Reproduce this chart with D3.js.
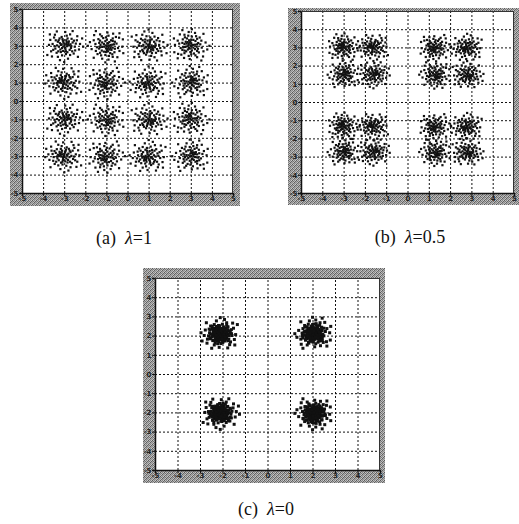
<!DOCTYPE html>
<html><head><meta charset="utf-8">
<script src="https://cdn.jsdelivr.net/npm/d3@7/dist/d3.min.js"></script>
<style>body{margin:0;background:#fff}svg{display:block}</style>
</head><body>
<svg id="c" width="519" height="524"></svg>
<script>
// ---- data ----
const tickValues = [-5,-4,-3,-2,-1,0,1,2,3,4,5];
const tickLabels = ["-5","-4","-3","-2","-1","0","1","2","3","4","5"];
const captions = ["(a)", "(b)", "(c)"];
const lambdas = ["1", "0.5", "0"];
const xLevelsA = [-3,-1,1,3];
const yLevelsA = [3,1,-1,-3];
const xLevelsB = [-3,-1.6,1.3,2.8];
const yLevelsB = [3,1.5,-1.35,-2.75];
const xLevelsC = [-2.1,2.05];
const yLevelsC = [2.1,-2.05];
// received-symbol offsets around each constellation point (read as a typical cluster)
const noise = [
[0.05,-0.10],[-0.12,0.08],[0.20,0.15],[-0.25,-0.05],[0.10,0.30],[-0.05,-0.28],[0.32,-0.12],[-0.30,0.22],[0.15,-0.35],[-0.18,-0.20],
[0.00,0.12],[0.24,0.02],[-0.08,0.36],[0.40,0.18],[-0.42,-0.15],[0.08,-0.45],[-0.22,0.40],[0.35,0.38],[-0.36,-0.38],[0.50,-0.05],
[-0.55,0.10],[0.12,0.55],[-0.10,-0.52],[0.60,0.30],[-0.48,0.45],[0.45,-0.42],[-0.62,-0.30],[0.28,0.62],[-0.30,-0.60],[0.70,-0.20],
[-0.72,0.05],[0.05,0.75],[0.18,-0.70],[-0.15,0.05],[0.02,0.02],[0.14,-0.02],[-0.04,0.20],[0.26,-0.22],[-0.20,0.14],[0.10,0.10],
[-0.10,-0.12],[0.30,0.08],[-0.28,-0.30],[0.06,-0.20],[-0.06,0.28],[0.22,0.24],[-0.34,0.02],[0.38,-0.30],[0.16,0.40],[-0.40,0.30],
[0.55,0.12],[-0.52,-0.22],[0.85,0.40],[-0.80,-0.50],[0.40,0.80],[-0.35,0.78],[0.65,-0.60],[-0.68,0.62],[0.90,-0.05],[0.00,-0.88],
[0.12,0.20],[-0.16,-0.34],[0.34,-0.02],[-0.02,-0.04],[0.18,0.06],[-0.26,0.30],[0.08,-0.30],[-0.12,0.48],[0.46,0.28],[-0.46,-0.02],
[0.62,0.52],[-0.58,-0.58],[0.75,0.10],[-0.20,-0.78],[0.28,-0.50],[-0.44,0.60],[0.52,-0.25],[-0.66,0.32]
];

// ---- layout ----
const panels = [
  {outer:[10,3,230,203], inner:[22,9,211,184], xs:xLevelsA, ys:yLevelsA, spread:1.0, copies:1, dot:2.2, cap:[124,244]},
  {outer:[288,8,231,197], inner:[301,11,213,182], xs:xLevelsB, ys:yLevelsB, spread:0.85, copies:1, dot:2.2, cap:[410,243]},
  {outer:[143,268,242,215], inner:[155,278,225,192], xs:xLevelsC, ys:yLevelsC, spread:0.95, copies:3, dot:3, cap:[266,515]}
];

const svg = d3.select("#c");
const defs = svg.append("defs");
const dith = [["#5a5a5a","#c0c0c0","#848484","#c8c8c8"],
              ["#a8a8a8","#747474","#bcbcbc","#646464"],
              ["#888888","#c8c8c8","#5e5e5e","#acacac"],
              ["#bcbcbc","#6c6c6c","#a4a4a4","#909090"]];
const pat = defs.append("pattern").attr("id","dither").attr("patternUnits","userSpaceOnUse")
  .attr("width",4).attr("height",4);
dith.forEach((row,r)=>row.forEach((c,q)=>pat.append("rect").attr("x",q).attr("y",r).attr("width",1).attr("height",1).attr("fill",c)));

// symmetric variants so that clusters don't look identical
const variants = [
  d=>[d[0],d[1]], d=>[-d[1],d[0]], d=>[-d[0],-d[1]], d=>[d[1],-d[0]],
  d=>[-d[0],d[1]], d=>[d[1],d[0]], d=>[d[0],-d[1]], d=>[-d[1],-d[0]]
];

panels.forEach((P,pi)=>{
  const g = svg.append("g");
  const [ox,oy,ow,oh] = P.outer, [ix,iy,iw,ih] = P.inner;
  g.append("rect").attr("x",ox).attr("y",oy).attr("width",ow).attr("height",oh).attr("fill","url(#dither)");
  g.append("rect").attr("x",ix).attr("y",iy).attr("width",iw).attr("height",ih).attr("fill","#fff");
  const x = d3.scaleLinear().domain([-5,5]).range([ix, ix+iw]);
  const y = d3.scaleLinear().domain([-5,5]).range([iy+ih, iy]);
  // grid
  const gx = g.append("g").attr("transform",`translate(0,${iy+ih})`)
    .call(d3.axisBottom(x).tickValues(tickValues.slice(1,-1)).tickSize(-ih).tickFormat(""));
  gx.select(".domain").remove();
  gx.selectAll("line").attr("stroke","#111").attr("stroke-width",1).attr("stroke-dasharray","2,2");
  const gy = g.append("g").attr("transform",`translate(${ix},0)`)
    .call(d3.axisLeft(y).tickValues(tickValues.slice(1,-1)).tickSize(-iw).tickFormat(""));
  gy.select(".domain").remove();
  gy.selectAll("line").attr("stroke","#111").attr("stroke-width",1).attr("stroke-dasharray","2,2");
  // tick labels on frame
  const ax = g.append("g").attr("transform",`translate(0,${iy+ih})`)
    .call(d3.axisBottom(x).tickValues(tickValues).tickSize(3).tickFormat((d,i)=>tickLabels[i]));
  ax.select(".domain").attr("stroke","#111").attr("stroke-width",1.5);
  ax.selectAll("line").attr("stroke","#111");
  ax.selectAll("text").attr("font-family","DejaVu Sans").attr("font-size",7).attr("font-weight","bold").attr("fill","#222").attr("dy","0.3em");
  const ay = g.append("g").attr("transform",`translate(${ix},0)`)
    .call(d3.axisLeft(y).tickValues(tickValues).tickSize(3).tickFormat((d,i)=>tickLabels[i]));
  ay.select(".domain").attr("stroke","#111").attr("stroke-width",1.5);
  ay.selectAll("line").attr("stroke","#111");
  ay.selectAll("text").attr("font-family","DejaVu Sans").attr("font-size",7).attr("font-weight","bold").attr("fill","#222").attr("dx","0.35em");
  g.append("line").attr("x1",ix).attr("x2",ix+iw).attr("y1",iy+0.5).attr("y2",iy+0.5).attr("stroke","#333");
  g.append("line").attr("x1",ix+iw-0.5).attr("x2",ix+iw-0.5).attr("y1",iy).attr("y2",iy+ih).attr("stroke","#333");
  // points
  const pts = [];
  let k = 0;
  P.ys.forEach(cy=>P.xs.forEach(cx=>{
    for(let c=0;c<P.copies;c++){
      const v = variants[(k*3+c*5+pi)%8];
      const s = P.spread*(c===0?1:(c===1?0.6:0.35));
      noise.forEach(d=>{const t=v(d); pts.push([cx+t[0]*s, cy+t[1]*s]);});
    }
    k++;
  }));
  g.append("g").selectAll("rect").data(pts).join("rect")
    .attr("x",d=>x(d[0])-P.dot/2).attr("y",d=>y(d[1])-P.dot/2)
    .attr("width",P.dot).attr("height",P.dot).attr("fill","#111");
  // caption
  const t = g.append("text").attr("x",P.cap[0]).attr("y",P.cap[1]).attr("text-anchor","middle")
    .attr("font-family","Liberation Serif").attr("font-size",18).attr("fill","#111");
  t.append("tspan").text(captions[pi]+"\u00a0\u00a0");
  t.append("tspan").attr("font-style","italic").text("\u03bb");
  t.append("tspan").text("="+lambdas[pi]);
});
</script>
</body></html>
